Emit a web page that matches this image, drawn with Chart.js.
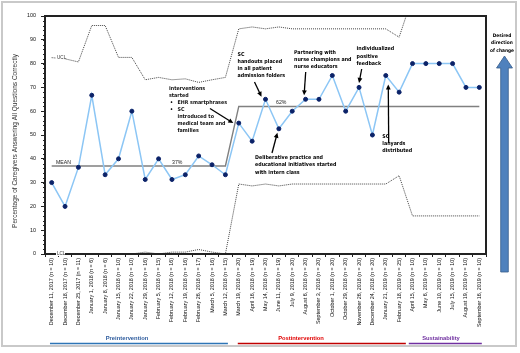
<!DOCTYPE html>
<html>
<head>
<meta charset="utf-8">
<script src="https://cdn.jsdelivr.net/npm/chart.js@4.4.0/dist/chart.umd.min.js"></script>
<style>
  html, body { margin: 0; padding: 0; background: #fff; }
  #wrap { width: 520px; height: 353px; position: relative; }
</style>
</head>
<body>
<div id="wrap"><canvas id="chart" width="520" height="353"></canvas></div>
<script>
// weekly / monthly samples
var weeks = [
  'December 11, 2017 (n = 10)', 'December 18, 2017 (n = 10)', 'December 25, 2017 (n = 11)',
  'January 1, 2018 (n = 6)', 'January 8, 2018 (n = 6)', 'January 15, 2018 (n = 10)',
  'January 22, 2018 (n = 10)', 'January 29, 2018 (n = 16)', 'February 5, 2018 (n = 15)',
  'February 12, 2018 (n = 16)', 'February 19, 2018 (n = 16)', 'February 26, 2018 (n = 17)',
  'March 5, 2018 (n = 16)', 'March 12, 2018 (n = 15)', 'March 19, 2018 (n = 20)',
  'April 16, 2018 (n = 19)', 'May 14, 2018 (n = 20)', 'June 11, 2018 (n = 19)',
  'July 9, 2018 (n = 20)', 'August 6, 2018 (n = 20)', 'September 3, 2018 (n = 20)',
  'October 1, 2018 (n = 20)', 'October 29, 2018 (n = 20)', 'November 26, 2018 (n = 20)',
  'December 24, 2018 (n = 20)', 'January 21, 2019 (n = 20)', 'February 18, 2019 (n = 25)',
  'April 15, 2019 (n = 10)', 'May 6, 2019 (n = 10)', 'June 10, 2019 (n = 10)',
  'July 15, 2019 (n = 10)', 'August 19, 2019 (n = 10)', 'September 16, 2019 (n = 10)'
];
var pctCorrect = [30, 20, 36.4, 66.7, 33.3, 40, 60, 31.3, 40, 31.3, 33.3, 41.2, 37.5, 33.3,
  55, 47.4, 65, 52.6, 60, 65, 65, 75, 60, 70, 50, 75, 68,
  80, 80, 80, 80, 70, 70];
var meanLine = [37, 37, 37, 37, 37, 37, 37, 37, 37, 37, 37, 37, 37, 37,
  62, 62, 62, 62, 62, 62, 62, 62, 62, 62, 62, 62, 62,
  62, 62, 62, 62, 62, 62];
var ucl = [82.5, 82, 80.7, 96, 96, 82.6, 82.6, 73.2, 74.2, 73.2, 73.6, 72.1, 73.2, 74.2,
  94.6, 95.4, 94.6, 95.4, 94.6, 94.6, 94.6, 94.6, 94.6, 94.6, 94.6, 94.6, 91.1,
  108, 108, 108, 108, 108, 108];
var lcl = [0, 0, 0, 0, 0, 0, 0, 0.8, 0, 0.8, 0.8, 1.9, 0.8, 0,
  29.4, 28.6, 29.4, 28.6, 29.4, 29.4, 29.4, 29.4, 29.4, 29.4, 29.4, 29.4, 32.9,
  16, 16, 16, 16, 16, 16];
var yTicks = [0, 10, 20, 30, 40, 50, 60, 70, 80, 90, 100];
var phases = ['Preintervention', 'Postintervention', 'Sustainability'];
var phaseFirst = [0, 14, 27];
var phaseLast = [13, 26, 32];

var noteFamily = '"Liberation Sans Narrow", "DejaVu Sans Condensed", "Liberation Sans", sans-serif';
var noteFont = 'bold 5.3px ' + noteFamily;
var tickFont = '"Liberation Sans", Arial, sans-serif';

function arrow(ctx, x1, y1, x2, y2) {
  var a = Math.atan2(y2 - y1, x2 - x1);
  ctx.strokeStyle = '#000';
  ctx.fillStyle = '#000';
  ctx.lineWidth = 1.3;
  ctx.beginPath();
  ctx.moveTo(x1, y1);
  ctx.lineTo(x2 - 3 * Math.cos(a), y2 - 3 * Math.sin(a));
  ctx.stroke();
  ctx.beginPath();
  ctx.moveTo(x2, y2);
  ctx.lineTo(x2 - 5 * Math.cos(a) + 2.4 * Math.sin(a), y2 - 5 * Math.sin(a) - 2.4 * Math.cos(a));
  ctx.lineTo(x2 - 5 * Math.cos(a) - 2.4 * Math.sin(a), y2 - 5 * Math.sin(a) + 2.4 * Math.cos(a));
  ctx.closePath();
  ctx.fill();
}

function lines(ctx, arr, x, y, lh) {
  for (var i = 0; i < arr.length; i++) ctx.fillText(arr[i], x, y + i * lh);
}

// frame, notes, phases, arrow etc.
var extras = {
  id: 'extras',
  afterDraw: function (chart) {
    var ctx = chart.ctx;
    var area = chart.chartArea;
    var xs = chart.scales.x, ys = chart.scales.y;
    var px = function (i) { return xs.getPixelForValue(i); };
    var py = function (v) { return ys.getPixelForValue(v); };
    ctx.save();

    // plot frame
    ctx.strokeStyle = '#222';
    ctx.lineWidth = 2;
    ctx.strokeRect(area.left, area.top, area.right - area.left, area.bottom - area.top);

    // minor ticks on y axis
    ctx.lineWidth = 1;
    for (var v = 0; v <= 100; v += 2) {
      ctx.beginPath();
      ctx.moveTo(area.left - 2, Math.round(py(v)) + 0.5);
      ctx.lineTo(area.left, Math.round(py(v)) + 0.5);
      ctx.stroke();
    }

    // y title
    ctx.save();
    ctx.translate(15.5, 141);
    ctx.rotate(-Math.PI / 2);
    ctx.font = '6.5px ' + tickFont;
    ctx.fillStyle = '#333';
    ctx.textAlign = 'center';
    ctx.textBaseline = 'middle';
    ctx.fillText('Percentage of Caregivers Answering All Questions Correctly', 0, 0);
    ctx.restore();

    // UCL / LCL / MEAN labels
    ctx.font = '4.6px ' + tickFont;
    ctx.textBaseline = 'middle';
    ctx.textAlign = 'left';
    ctx.fillStyle = '#fff';
    ctx.fillRect(56, py(ucl[0]) - 2, 9, 4);
    ctx.fillRect(56, area.bottom - 2, 9, 4);
    ctx.fillStyle = '#333';
    ctx.fillText('UCL', 57, py(ucl[0]));
    ctx.fillText('LCL', 57, area.bottom);
    ctx.font = '5.2px ' + tickFont;
    ctx.fillStyle = '#222';
    ctx.fillText('MEAN', 56, py(meanLine[0]) - 3.5);
    ctx.fillText('37%', 172, py(meanLine[0]) - 3.5);
    ctx.fillText('62%', 276, py(meanLine[20]) - 3.5);

    // annotations
    ctx.font = noteFont;
    ctx.fillStyle = '#111';
    lines(ctx, ['Interventions', 'started'], 169, 89, 6.9);
    ctx.fillText('\u2022', 170, 103);
    ctx.fillText('\u2022', 170, 110);
    lines(ctx, ['EHR smartphrases', 'SC', 'introduced to', 'medical team and', 'families'], 177.5, 103, 6.8);
    arrow(ctx, 210, 108.5, px(14) - 5.5, py(pctCorrect[14]));

    lines(ctx, ['SC', 'handouts placed', 'in all patient', 'admission folders'], 237.5, 54.5, 7.2);
    arrow(ctx, 254.5, 82, px(16) - 4, py(pctCorrect[16]) - 2.6);

    lines(ctx, ['Partnering with', 'nurse champions and', 'nurse educators'], 294, 53, 7);
    arrow(ctx, 305.7, 72, px(19) - 1.5, py(pctCorrect[19]) - 4);

    lines(ctx, ['Individualized', 'positive', 'feedback'], 356.5, 49, 7.5);
    arrow(ctx, 361.7, 69, px(23), py(pctCorrect[23]) - 4.5);

    lines(ctx, ['Deliberative practice and', 'educational initiatives started', 'with intern class'], 255, 157.7, 7.3);
    arrow(ctx, 272, 153, px(17) - 1.5, py(pctCorrect[17]) + 4);

    lines(ctx, ['SC', 'lanyards', 'distributed'], 382.3, 136.7, 7);
    arrow(ctx, 388.7, 143, px(25) + 2.5, py(pctCorrect[25]) + 9);

    // desired direction arrow on the right
    ctx.textAlign = 'center';
    ctx.font = 'bold 4.8px ' + noteFamily;
    lines(ctx, ['Desired', 'direction', 'of change'], 502, 35.5, 7.6);
    ctx.beginPath();
    ctx.moveTo(504.5, 56);
    ctx.lineTo(512.5, 68);
    ctx.lineTo(508.3, 68);
    ctx.lineTo(508.3, 272);
    ctx.lineTo(500.7, 272);
    ctx.lineTo(500.7, 68);
    ctx.lineTo(496.5, 68);
    ctx.closePath();
    ctx.fillStyle = '#4F81BD';
    ctx.fill();
    ctx.strokeStyle = '#385D8A';
    ctx.lineWidth = 0.8;
    ctx.stroke();

    // study phases under the axis
    var phaseColor = ['#2E5C9E', '#E00000', '#7030A0'];
    var lineColor = ['#2E75B6', '#C00000', '#7030A0'];
    var textX = [127, 301, 441];
    var padL = [-1.7, -1, -3.7];
    var padR = [2.5, 6.7, 2.5];
    for (var p = 0; p < phases.length; p++) {
      ctx.font = 'bold 5.8px ' + tickFont;
      ctx.fillStyle = phaseColor[p];
      ctx.textAlign = 'center';
      ctx.fillText(phases[p], textX[p], 338.5);
      ctx.strokeStyle = lineColor[p];
      ctx.lineWidth = 1.6;
      ctx.beginPath();
      ctx.moveTo(px(phaseFirst[p]) + padL[p], 343.5);
      ctx.lineTo(px(phaseLast[p]) + padR[p], 343.5);
      ctx.stroke();
    }

    // outer border
    ctx.strokeStyle = '#C9C9C9';
    ctx.lineWidth = 2;
    ctx.strokeRect(2, 2, 514, 344);
    ctx.restore();
  }
};

var ctx = document.getElementById('chart').getContext('2d');
var chart = new Chart(ctx, {
  type: 'line',
  data: {
    labels: weeks,
    datasets: [{
      label: 'Percentage correct',
      data: pctCorrect,
      borderColor: '#8CC6F5',
      borderWidth: 1.5,
      pointBackgroundColor: '#0B2268',
      pointBorderColor: '#0B2268',
      pointBorderWidth: 1,
      pointRadius: 2,
      tension: 0,
      order: 0
    }, {
      label: 'Mean',
      data: meanLine,
      borderColor: '#808080',
      borderWidth: 1.4,
      pointRadius: 0,
      order: 1
    }, {
      label: 'UCL',
      data: ucl,
      borderColor: '#444',
      borderWidth: 1,
      borderDash: [1, 1],
      pointRadius: 0,
      order: 2
    }, {
      label: 'LCL',
      data: lcl,
      borderColor: '#444',
      borderWidth: 1,
      borderDash: [1, 1],
      pointRadius: 0,
      order: 2
    }]
  },
  options: {
    responsive: false,
    animation: false,
    layout: { padding: { left: 0, top: 16, right: 34, bottom: 0 } },
    plugins: { legend: { display: false }, tooltip: { enabled: false } },
    scales: {
      x: {
        offset: true,
        afterFit: function (s) { s.height = 99; },
        grid: { offset: true, drawOnChartArea: false, tickLength: 3, color: '#222' },
        border: { color: '#222', width: 2 },
        ticks: {
          autoSkip: false, maxRotation: 90, minRotation: 90, padding: 1,
          color: '#111', font: { family: tickFont, size: 5.4 }
        }
      },
      y: {
        min: 0,
        max: 100,
        afterFit: function (s) { s.width = 45; },
        afterBuildTicks: function (s) { s.ticks = yTicks.map(function (v) { return { value: v }; }); },
        grid: { drawOnChartArea: false, tickLength: 4, color: '#222' },
        border: { color: '#222', width: 2 },
        ticks: { padding: 5, color: '#111', font: { family: tickFont, size: 5.4 } }
      }
    }
  },
  plugins: [extras]
});
</script>
</body>
</html>
